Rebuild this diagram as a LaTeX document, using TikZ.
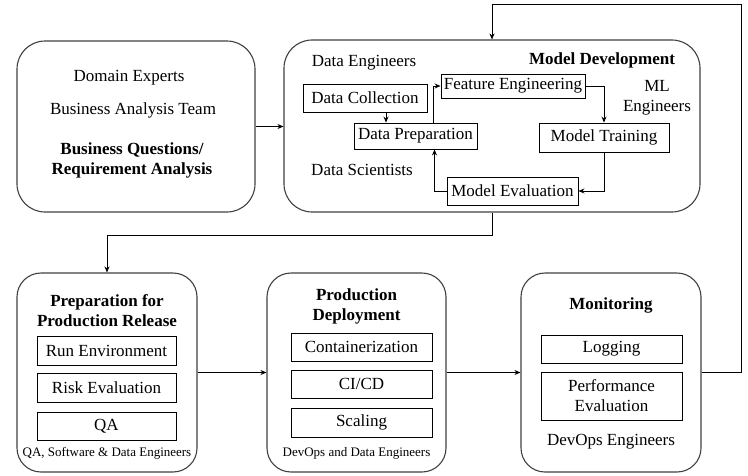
\documentclass[tikz,border=0pt]{standalone}
\usepackage{fontspec}
\setmainfont{Liberation Serif}
\usetikzlibrary{arrows.meta,positioning}
\begin{document}
\begin{tikzpicture}[x=1pt,y=-1pt,
  stage/.style={draw=black!75,line width=1.1pt,rounded corners=28pt,inner sep=0pt},
  item/.style={draw=black,line width=0.9pt,inner sep=0pt,font=\fontsize{17}{20}\selectfont,align=center},
  lbl/.style={inner sep=0pt,font=\fontsize{17}{20}\selectfont,align=center},
  ttl/.style={inner sep=0pt,font=\fontsize{17}{20}\selectfont\bfseries,align=center},
  small/.style={inner sep=0pt,font=\fontsize{13}{15}\selectfont},
  arr/.style={draw=black,line width=0.8pt,-{Stealth[length=6pt,width=5pt]}}]
\useasboundingbox (0,0) rectangle (748,475);
% stages
\node[stage,minimum width=238pt,minimum height=171pt] (B1) at (136,126.5) {};
\node[stage,minimum width=416pt,minimum height=172pt] (B2) at (492,126) {};
\node[stage,rounded corners=24pt,minimum width=180pt,minimum height=199pt] (B3) at (107,372.5) {};
\node[stage,rounded corners=24pt,minimum width=179pt,minimum height=199pt] (B4) at (356.5,372.5) {};
\node[stage,rounded corners=24pt,minimum width=180pt,minimum height=199pt] (B5) at (611,372.5) {};
% box 1 texts
\node[lbl] (t1) at (129,78) {Domain Experts};
\node[lbl] (t2) at (133,110) {Business Analysis Team};
\node[ttl] (t3) at (132,160) {Business Questions/\\Requirement Analysis};
% box 2
\node[lbl] (de) at (364,63) {Data Engineers};
\node[ttl] (md) at (602,60) {Model Development};
\node[lbl] (ds) at (362,170) {Data Scientists};
\node[lbl] (ml) at (657,98) {ML\\Engineers};
\node[item,minimum width=124pt,minimum height=28pt] (DC) at (365,98) {Data Collection};
\node[item,minimum width=123pt,minimum height=26pt] (DP) at (415.5,136) {Data Preparation};
\node[item,minimum width=144pt,minimum height=24pt] (FE) at (513,86) {Feature Engineering};
\node[item,minimum width=130pt,minimum height=29pt] (MT) at (604,137.5) {Model Training};
\node[item,minimum width=131pt,minimum height=28pt] (ME) at (512.5,191) {Model Evaluation};
% box 3
\node[ttl] (p1) at (107,311) {Preparation for\\Production Release};
\node[item,minimum width=139pt,minimum height=29pt] (RE) at (106.5,350.5) {Run Environment};
\node[item,minimum width=139pt,minimum height=29pt] (RK) at (106.5,387.5) {Risk Evaluation};
\node[item,minimum width=139pt,minimum height=28pt] (QA) at (106.5,426) {QA};
\node[small] (f3) at (107,453) {QA, Software \& Data Engineers};
% box 4
\node[ttl] (p2) at (356.5,306) {Production\\Deployment};
\node[item,minimum width=141pt,minimum height=28pt] (CO) at (361.5,347) {Containerization};
\node[item,minimum width=141pt,minimum height=28pt] (CI) at (361.5,384) {CI/CD};
\node[item,minimum width=141pt,minimum height=29pt] (SC) at (361.5,422.5) {Scaling};
\node[small] (f4) at (356.5,453) {DevOps and Data Engineers};
% box 5
\node[ttl] (p3) at (611,305) {Monitoring};
\node[item,minimum width=141pt,minimum height=28pt] (LG) at (611.5,349) {Logging};
\node[item,minimum width=141pt,minimum height=48pt] (PE) at (611.5,396) {Performance\\Evaluation};
\node[lbl] (f5) at (611,442) {DevOps Engineers};
% connectors between stages
\coordinate (c1) at (741,4);
\draw[arr] (B1.east) -- (B1.east -| B2.west);
\draw[arr] (B2.south) -- ++(0,23) -| (B3.north);
\draw[arr] (B3.east) -- (B3.east -| B4.west);
\draw[arr] (B4.east) -- (B4.east -| B5.west);
\draw[arr] (B5.east) -| (c1) -| (B2.north);
% inner connectors
\draw[arr] ([xshift=21pt]DC.south) -- ([xshift=21pt]DC.south |- DP.north);
\draw[arr] ([xshift=18pt]DP.north) |- (FE.west);
\draw[arr] (FE.east) -| (MT.north);
\draw[arr] (MT.south) |- (ME.east);
\draw[arr] (ME.west) -| ([xshift=19pt]DP.south);
\end{tikzpicture}
\end{document}
